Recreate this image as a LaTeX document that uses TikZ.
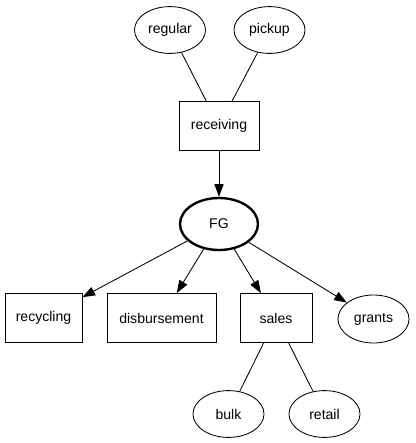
\documentclass[tikz,border=0pt]{standalone}
\usepackage{fontspec}
\setmainfont{Liberation Sans}
\usepackage{tikz}
\usetikzlibrary{shapes,arrows.meta,positioning,calc}

\begin{document}
\begin{tikzpicture}[x=0.025cm,y=-0.025cm,line width=0.6pt,
          box/.style={draw,rectangle,minimum width=#1*0.025cm,
                      minimum height=1.225cm,inner sep=1pt,
                      font=\fontsize{10}{12}\selectfont},
          oval/.style={draw,ellipse,minimum width=1.775cm,
                       minimum height=1.17cm,inner sep=1pt,
                       font=\fontsize{10}{12}\selectfont},
          hub/.style={oval,line width=1.7pt,minimum width=1.95cm,
                      minimum height=1.3cm},
          flow/.style={-{Triangle[length=9pt,width=6.5pt]}},
          link/.style={}
        ]
        \useasboundingbox (0,0) rectangle (416,443);
        \node[oval] (regular) at (170,30)    {regular};
        \node[oval] (pickup)  at (269.5,30)  {pickup};
        \node[box=80] (receiving) at (219,126) {receiving};
        \node[hub] (fg)       at (219,224)   {FG};
        \node[box=77]  (recycling) at (43.5,318) {recycling};
        \node[box=109] (disb)  at (161.5,318) {disbursement};
        \node[box=72]  (sales) at (276,318)   {sales};
        \node[oval,minimum height=1.2cm] (grants) at (373.5,319) {grants};
        \node[oval] (bulk)   at (228.5,414) {bulk};
        \node[oval] (retail) at (324.5,414) {retail};
        \draw[link] (regular) -- (receiving);
        \draw[link] (pickup)  -- (receiving);
        \draw[flow] (receiving) -- (fg);
        \draw[flow] (fg) -- (recycling);
        \draw[flow] (fg) -- (disb);
        \draw[flow] (fg) -- (sales);
        \draw[flow] (fg) -- (grants);
        \draw[link] (sales) -- (bulk);
        \draw[link] (sales) -- (retail);
      \end{tikzpicture}
\end{document}
